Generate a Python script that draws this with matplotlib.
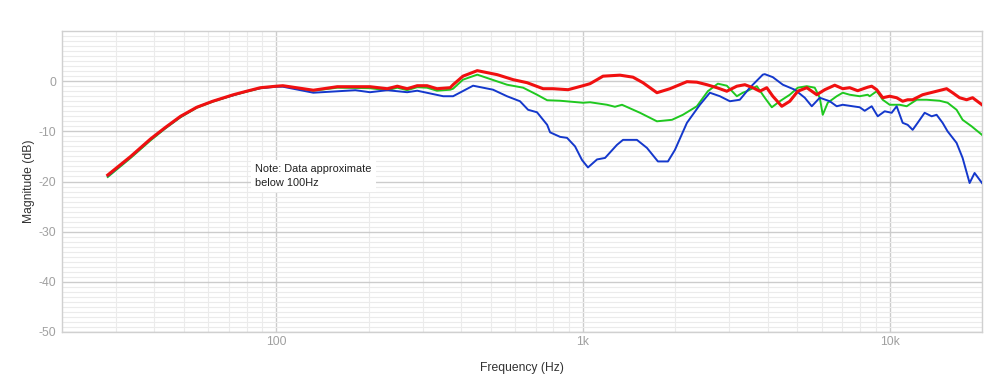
import matplotlib
matplotlib.use("Agg")
import matplotlib.pyplot as plt
from matplotlib.ticker import FixedLocator, NullFormatter, FixedFormatter

plt.rcParams['font.family'] = ['Liberation Sans', 'DejaVu Sans']
plt.rcParams['axes.unicode_minus'] = False

# ---- data (frequency in Hz, magnitude in dB) ----
red_f = [28.2, 33.5, 38.9, 43.5, 48.7, 55, 62, 72.4, 80, 88.7, 100, 105, 132, 158, 202, 230, 248, 267, 288, 310, 334,
         369, 377, 406, 452, 525, 592, 657, 741, 799, 894, 1000, 1054, 1111, 1162, 1320, 1455,
         1568, 1742, 1921, 2182, 2351, 2534, 2732, 2944, 3174, 3371, 3578, 3771, 3974, 4158,
         4448, 4724, 5015, 5366, 5784, 6142, 6619, 7030, 7406, 7865, 8478, 8737, 9072, 9489,
         10000, 10538, 11024, 11446, 11882, 12807, 14224, 15332, 16036, 16903, 17817, 18637, 20000]
red_db = [-18.7, -15.0, -11.5, -9.2, -7.0, -5.2, -4.0, -2.7, -2.0, -1.3, -1.0, -0.9, -1.8, -1.1, -1.1, -1.5, -1.0, -1.5, -0.9, -0.9, -1.5,
          -1.3, -0.7, 1.0, 2.1, 1.3, 0.3, -0.3, -1.5, -1.5, -1.7, -0.9, -0.5, 0.3, 1.0, 1.2, 0.8,
          -0.3, -2.3, -1.5, -0.1, -0.2, -0.7, -1.3, -2.0, -1.0, -0.7, -1.3, -2.0, -1.3, -3.0,
          -5.0, -4.0, -2.0, -1.3, -2.7, -1.7, -0.8, -1.5, -1.3, -1.9, -1.2, -1.0, -1.7, -3.3,
          -3.0, -3.3, -4.0, -3.7, -3.7, -2.7, -2.0, -1.5, -2.3, -3.3, -3.7, -3.3, -4.7]

green_f = [28.2, 33.5, 38.9, 43.5, 48.7, 55, 62, 72.4, 80, 88.7, 100, 105, 132, 158, 202, 230, 248, 267, 288, 310, 334,
           369, 377, 406, 452, 565, 638, 708, 764, 842, 1000, 1054, 1197, 1271, 1340, 1534, 1742,
           1950, 2117, 2351, 2553, 2753, 2944, 3174, 3320, 3421, 3688, 3915, 4127, 4382, 4724,
           5015, 5366, 5698, 5916, 6050, 6281, 6719, 7030, 7406, 7984, 8478, 8606, 9072, 9489,
           10000, 10779, 11360, 12246, 13198, 14549, 15447, 16523, 17289, 18499, 20000]
green_db = [-19.1, -15.3, -11.8, -9.4, -7.2, -5.3, -4.1, -2.8, -2.1, -1.4, -1.0, -1.0, -1.9, -1.3, -1.4, -1.8, -1.3, -1.8, -1.2, -1.3, -1.9,
            -1.7, -1.5, 0.3, 1.3, -0.7, -1.3, -2.7, -3.8, -3.9, -4.3, -4.2, -4.7, -5.1, -4.7, -6.3, -8.0,
            -7.7, -6.7, -5.0, -2.0, -0.5, -0.9, -3.0, -2.3, -2.0, -1.0, -3.3, -5.2, -4.0, -2.7,
            -1.3, -1.0, -1.3, -3.3, -6.7, -4.3, -3.0, -2.3, -2.7, -3.0, -2.7, -3.0, -2.0, -3.7,
            -4.7, -4.7, -5.0, -3.7, -3.7, -3.9, -4.3, -5.7, -7.7, -9.0, -10.7]

blue_f = [28.2, 33.5, 38.9, 43.5, 48.7, 55, 62, 72.4, 80, 88.7, 100, 105, 132, 181, 202, 230, 267, 288, 350, 377, 438,
          509, 565, 623, 662, 708, 764, 781, 842, 887, 942, 992, 1038, 1111, 1180, 1290, 1350,
          1499, 1616, 1755, 1892, 1994, 2182, 2405, 2592, 2795, 3012, 3246, 3499, 3857, 3915,
          4158, 4482, 4904, 5286, 5571, 5916, 6375, 6719, 7030, 7575, 7984, 8290, 8737, 9141,
          9632, 10151, 10538, 11024, 11446, 11882, 12338, 13002, 13703, 14224, 14878, 15447,
          16523, 17289, 18224, 18918, 20000]
blue_db = [-18.9, -15.1, -11.6, -9.3, -7.1, -5.2, -4.0, -2.8, -2.0, -1.4, -1.1, -1.1, -2.3, -1.8, -2.2, -1.8, -2.2, -1.9, -3.0, -3.0, -0.9,
           -1.7, -3.0, -4.0, -5.7, -6.2, -8.7, -10.2, -11.1, -11.3, -13.0, -15.7, -17.2, -15.6, -15.3, -12.7, -11.7,
           -11.7, -13.3, -16.0, -16.0, -13.7, -8.3, -4.7, -2.3, -3.0, -4.0, -3.7, -1.3, 1.3, 1.4,
           0.8, -0.7, -1.7, -3.3, -5.0, -3.3, -4.0, -5.0, -4.7, -5.0, -5.2, -5.9, -5.0, -7.0,
           -6.0, -6.3, -5.0, -8.3, -8.7, -9.7, -8.3, -6.3, -7.0, -6.7, -8.3, -10.0,
           -12.3, -15.3, -20.3, -18.3, -20.3]

x_major = [100, 1000, 10000]
x_major_labels = ['100', '1k', '10k']
y_major = [-50, -40, -30, -20, -10, 0]
note_text = "Note: Data approximate\nbelow 100Hz"

# ---- figure ----
fig = plt.figure(figsize=(10, 3.82), dpi=100)
ax = fig.add_axes([0.062, 0.1309, 0.920, 0.7879])
ax.set_xscale('log')
ax.set_xlim(20, 20000)
ax.set_ylim(-50, 10)

minor_x = [m * 10 ** d for d in range(1, 5) for m in range(2, 10) if m * 10 ** d <= 20000]
ax.xaxis.set_major_locator(FixedLocator(x_major))
ax.xaxis.set_major_formatter(FixedFormatter(x_major_labels))
ax.xaxis.set_minor_locator(FixedLocator(minor_x))
ax.xaxis.set_minor_formatter(NullFormatter())
ax.yaxis.set_major_locator(FixedLocator(y_major))
ax.yaxis.set_minor_locator(FixedLocator([v for v in range(-50, 11) if v % 10 != 0]))

ax.grid(which='major', color='#cccccc', linewidth=1.0)
ax.grid(which='minor', color='#ebebeb', linewidth=0.8)
ax.set_axisbelow(True)
for s in ax.spines.values():
    s.set_color('#d0d0d0')
    s.set_linewidth(1.0)
ax.tick_params(which='both', length=0, colors='#a0a0a0', labelsize=8.7)
ax.tick_params(axis='x', pad=3)
ax.tick_params(axis='y', pad=4)

ax.plot(green_f, green_db, color='#1fc81f', linewidth=1.4, zorder=3)
ax.plot(blue_f, blue_db, color='#1438cc', linewidth=1.4, zorder=4)
ax.plot(red_f, red_db, color='#f01010', linewidth=2.2, zorder=5)

ax.text(85.5, -16.5, note_text, fontsize=7.9, color='#222222', va='top', ha='left',
        linespacing=1.5,
        bbox=dict(facecolor='white', edgecolor='none', pad=3), zorder=6)

ax.set_xlabel('Frequency (Hz)', fontsize=8.7, color='#333333', labelpad=10)
ax.set_ylabel('Magnitude (dB)', fontsize=8.7, color='#333333', labelpad=3)

fig.savefig('out.png', dpi=100, facecolor='white')
